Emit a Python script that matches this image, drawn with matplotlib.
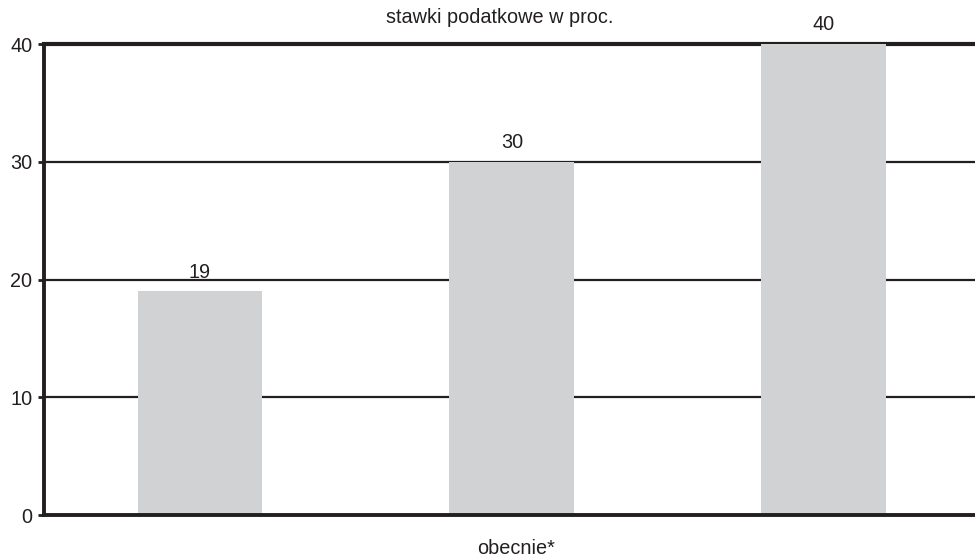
import matplotlib
matplotlib.use('Agg')
import matplotlib.pyplot as plt

# stawki podatkowe - wartości słupków
stawki = [19, 30, 40]
y_ticks = [0, 10, 20, 30, 40]

ink = '#231f20'
bar_color = '#d1d2d4'
fs = 14.3

plt.rcParams['font.family'] = ['Liberation Sans', 'DejaVu Sans']

fig = plt.figure(figsize=(9.75, 5.57), dpi=100)
ax = fig.add_axes([0.0451, 0.0754, 0.9549, 0.8456])

x = list(range(len(stawki)))
ax.bar(x, stawki, width=0.4, color=bar_color, zorder=2)

for xi, v in zip(x, stawki):
    ax.annotate(str(v), (xi, v), xytext=(0, 7), textcoords='offset points',
                ha='center', va='bottom', fontsize=fs, color=ink)

ax.set_xlim(-0.5, 2.485)
ax.set_ylim(0, 40)
ax.set_yticks(y_ticks)
ax.set_xticks([])

# poziome linie siatki za słupkami
for yv in y_ticks[1:]:
    lw = 3 if yv == 40 else 1.6
    ax.axhline(yv, color=ink, lw=lw, zorder=1, clip_on=False)

for side in ['top', 'right']:
    ax.spines[side].set_visible(False)
for side in ['left', 'bottom']:
    ax.spines[side].set_color(ink)
    ax.spines[side].set_linewidth(2.8)
    ax.spines[side].set_zorder(3)

ax.tick_params(axis='y', length=4, width=2, color=ink, labelsize=fs,
               labelcolor=ink, pad=4.5)

fig.text(0.513, 0.969, 'stawki podatkowe w proc.', ha='center', va='center',
         fontsize=fs, color=ink)
fig.text(0.529, 0.016, 'obecnie*', ha='center', va='center',
         fontsize=fs, color=ink)

fig.savefig('out.png', dpi=100)
